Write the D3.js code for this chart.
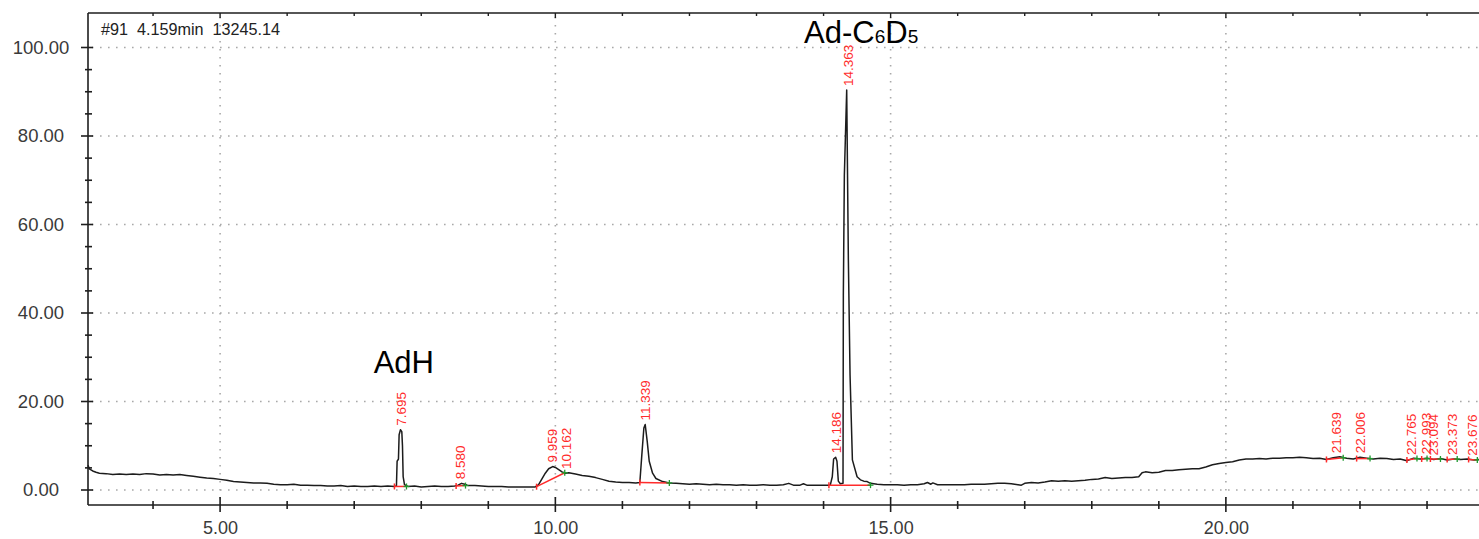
<!DOCTYPE html>
<html><head><meta charset="utf-8">
<script src="https://cdn.jsdelivr.net/npm/d3@7"></script>
<style>
body{margin:0;background:#fff}
svg{display:block}
text{font-family:"Liberation Sans",Arial,sans-serif}
</style>
</head><body>
<svg id="c" width="1479" height="539"></svg>
<script>
// ---- data ----
const trace = [
[3.03,5.6],[3.05,4.8],[3.10,4.3],[3.15,4.0],[3.2,3.8],[3.3,3.7],[3.4,3.5],[3.5,3.6],[3.6,3.5],[3.7,3.6],
[3.8,3.5],[3.9,3.7],[4.0,3.6],[4.1,3.4],[4.2,3.5],[4.3,3.4],[4.4,3.5],[4.5,3.3],[4.6,3.1],[4.7,2.9],
[4.8,2.7],[4.9,2.6],[5.0,2.4],[5.1,2.2],[5.2,1.9],[5.3,1.8],[5.4,1.7],[5.5,1.6],[5.6,1.6],[5.7,1.5],
[5.8,1.3],[5.9,1.2],[6.0,1.2],[6.1,1.3],[6.2,1.1],[6.3,1.1],[6.4,1.0],[6.5,1.0],[6.6,0.9],[6.7,0.9],
[6.8,1.0],[6.9,0.8],[7.0,0.9],[7.1,0.8],[7.2,0.8],[7.3,0.9],[7.4,0.8],[7.5,0.9],[7.6,0.8],[7.63,0.9],
[7.64,6.5],[7.66,7.0],[7.67,12.5],[7.69,13.6],[7.71,13.2],[7.72,10.0],[7.73,3.0],[7.75,1.2],[7.8,0.8],[7.9,0.9],
[8.0,0.7],[8.1,0.8],[8.2,0.9],[8.3,0.8],[8.4,0.8],[8.5,0.9],[8.55,1.1],[8.6,1.5],[8.65,1.3],[8.7,1.0],
[8.8,1.0],[8.9,0.9],[9.0,0.8],[9.1,0.8],[9.2,0.8],[9.3,0.7],[9.4,0.7],[9.5,0.7],[9.6,0.7],[9.7,0.7],
[9.75,1.2],[9.8,2.5],[9.85,3.8],[9.9,4.8],[9.96,5.3],[10.0,5.1],[10.05,4.6],[10.1,4.1],[10.15,3.8],[10.2,3.9],
[10.3,3.6],[10.4,3.3],[10.5,3.1],[10.6,2.8],[10.7,2.4],[10.8,2.0],[10.9,1.8],[11.0,1.7],[11.1,1.7],[11.2,1.6],
[11.26,1.7],[11.29,8.0],[11.32,14.0],[11.34,14.8],[11.37,11.0],[11.4,6.5],[11.45,3.8],[11.5,2.6],[11.6,1.9],[11.7,1.6],
[11.8,1.5],[11.9,1.4],[12.0,1.3],[12.1,1.4],[12.2,1.3],[12.3,1.2],[12.4,1.3],[12.5,1.2],[12.6,1.2],[12.7,1.1],
[12.8,1.2],[12.9,1.1],[13.0,1.1],[13.1,1.2],[13.2,1.1],[13.3,1.1],[13.4,1.2],[13.48,1.5],[13.55,1.1],[13.65,1.1],
[13.7,1.4],[13.75,1.1],[13.8,1.1],[13.9,1.1],[14.0,1.1],[14.1,1.1],[14.13,3.0],[14.15,7.0],[14.18,7.4],[14.2,6.5],
[14.22,2.0],[14.25,1.4],[14.29,1.5],[14.295,44.0],[14.31,71.0],[14.345,90.4],[14.37,52.0],[14.395,26.0],[14.43,6.8],[14.5,3.0],
[14.55,2.3],[14.6,2.0],[14.65,1.9],[14.7,1.5],[14.8,1.3],[14.9,1.2],[15.0,1.2],[15.1,1.2],[15.2,1.1],[15.3,1.2],
[15.4,1.2],[15.5,1.4],[15.55,1.7],[15.6,1.3],[15.63,1.6],[15.7,1.2],[15.8,1.2],[15.9,1.2],[16.0,1.2],[16.1,1.2],
[16.2,1.3],[16.3,1.3],[16.4,1.3],[16.5,1.4],[16.6,1.5],[16.7,1.5],[16.8,1.4],[16.9,1.2],[16.95,1.1],[17.0,1.5],
[17.1,1.7],[17.2,1.6],[17.3,1.8],[17.4,2.1],[17.5,2.0],[17.6,2.1],[17.7,2.0],[17.8,2.1],[17.9,2.2],[18.0,2.4],
[18.1,2.5],[18.2,2.8],[18.3,2.6],[18.4,2.7],[18.5,2.8],[18.6,2.8],[18.7,3.0],[18.75,3.9],[18.8,4.1],[18.9,3.9],
[19.0,4.0],[19.1,4.4],[19.2,4.4],[19.3,4.6],[19.4,4.7],[19.5,4.8],[19.6,4.8],[19.7,5.2],[19.8,5.7],[19.9,6.0],
[20.0,6.2],[20.1,6.4],[20.2,6.8],[20.3,7.0],[20.4,7.0],[20.5,7.1],[20.6,7.0],[20.7,7.2],[20.8,7.2],[20.9,7.3],
[21.0,7.3],[21.1,7.4],[21.2,7.3],[21.3,7.1],[21.4,7.2],[21.5,6.9],[21.6,7.3],[21.7,7.5],[21.8,7.2],[21.9,7.0],
[22.0,7.4],[22.1,7.2],[22.2,7.0],[22.3,7.2],[22.4,7.1],[22.5,6.9],[22.6,7.0],[22.7,6.6],[22.8,7.2],[22.9,7.0],
[23.0,7.2],[23.1,6.9],[23.2,7.1],[23.3,6.8],[23.4,7.0],[23.5,6.9],[23.6,7.0],[23.7,6.8],[23.8,6.9]
];
const peakTimes  = [7.695, 8.580, 9.959, 10.162, 11.339, 14.186, 14.363, 21.639, 22.006, 22.765, 22.993, 23.094, 23.373, 23.676];
const peakLabels = ["7.695","8.580","9.959","10.162","11.339","14.186","14.363","21.639","22.006","22.765","22.993","23.094","23.373","23.676"];
const integStart = [[7.60,0.8],[8.52,0.9],[9.72,0.75],[11.26,1.7],[14.08,1.1],[21.50,6.9],[21.95,7.1],[22.70,6.8],[22.92,7.0],[23.05,7.0],[23.30,6.9],[23.62,6.9]];
const integEnd   = [[7.78,0.8],[8.66,1.0],[10.14,3.9],[11.70,1.6],[14.70,1.1],[21.75,7.3],[22.15,7.1],[22.85,7.1],[23.00,7.1],[23.20,7.0],[23.45,7.0],[23.75,6.8]];
const xTickLabels = [5, 10, 15, 20];
const xMinorTicks = d3.range(4, 24, 1);
const yTickLabels = [0, 20, 40, 60, 80, 100];
const yMinorTicks = d3.range(0, 105, 5);
const headerText = "#91  4.159min  13245.14";
const annoAdH = {t: 7.74, v: 26.4};
const annoAdC = {t: 14.56, v: 101.0};

// ---- layout ----
const svg = d3.select("#c");
const L = 88, R = 1479, T = 13, B = 505;
const x = d3.scaleLinear().domain([3.03, 23.775]).range([L, R]);
const y = d3.scaleLinear().domain([0, 100]).range([490, 47.5]);
const axisCol = "#1e1e1e", labCol = "#3a3a3a";

// grid
const grid = svg.append("g").attr("stroke", "#a9a9a9").attr("stroke-width", 1.6).attr("stroke-dasharray", "1.6 6.4");
grid.selectAll("line.h").data(yTickLabels).join("line").attr("class","h")
  .attr("x1", L + 4).attr("x2", R).attr("y1", d => y(d)).attr("y2", d => y(d));
grid.selectAll("line.v").data(xTickLabels).join("line").attr("class","v")
  .attr("x1", d => x(d)).attr("x2", d => x(d)).attr("y1", T + 4).attr("y2", B);

// frame
svg.append("line").attr("x1", L).attr("x2", R).attr("y1", T).attr("y2", T).attr("stroke", axisCol).attr("stroke-width", 1.6);
svg.append("line").attr("x1", L).attr("x2", R).attr("y1", B).attr("y2", B).attr("stroke", axisCol).attr("stroke-width", 1.6);
svg.append("line").attr("x1", L).attr("x2", L).attr("y1", T).attr("y2", B).attr("stroke", axisCol).attr("stroke-width", 1.6);

// x ticks (bottom, crossing) and top ticks
const isMajX = d => xTickLabels.includes(d);
svg.append("g").selectAll("line").data(xMinorTicks).join("line")
  .attr("x1", d => x(d)).attr("x2", d => x(d))
  .attr("y1", d => isMajX(d) ? B - 8 : B - 4).attr("y2", d => isMajX(d) ? B + 7 : B + 4)
  .attr("stroke", axisCol).attr("stroke-width", 1.6);
svg.append("g").selectAll("line").data(xMinorTicks).join("line")
  .attr("x1", d => x(d)).attr("x2", d => x(d))
  .attr("y1", T).attr("y2", d => isMajX(d) ? T + 5 : T + 3)
  .attr("stroke", axisCol).attr("stroke-width", 1.4);
// y ticks crossing
const isMajY = d => yTickLabels.includes(d);
svg.append("g").selectAll("line").data(yMinorTicks).join("line")
  .attr("y1", d => y(d)).attr("y2", d => y(d))
  .attr("x1", d => isMajY(d) ? L - 7 : L - 3).attr("x2", d => isMajY(d) ? L + 5 : L + 4)
  .attr("stroke", axisCol).attr("stroke-width", 1.6);

// axis labels via d3 axes
const xa = svg.append("g").attr("transform", `translate(0,${B})`)
  .call(d3.axisBottom(x).tickValues(xTickLabels).tickFormat(d3.format(".2f")).tickSize(0).tickPadding(16));
xa.select(".domain").remove();
xa.selectAll("text").attr("font-size", 18).attr("fill", labCol).attr("font-family", '"Liberation Sans",Arial,sans-serif');
const ya = svg.append("g").attr("transform", `translate(${L},0)`)
  .call(d3.axisLeft(y).tickValues(yTickLabels).tickFormat(d3.format(".2f")).tickSize(0));
ya.select(".domain").remove();
ya.selectAll("text").attr("font-size", 18.5).attr("fill", labCol).attr("text-anchor", "middle")
  .attr("x", 41 - L).attr("font-family", '"Liberation Sans",Arial,sans-serif');

// trace
svg.append("path").datum(trace)
  .attr("d", d3.line().x(d => x(d[0])).y(d => y(d[1])))
  .attr("fill", "none").attr("stroke", "#1c1c1c").attr("stroke-width", 1.5).attr("stroke-linejoin", "round");

// integration baselines
const red = "#ff2b2b", green = "#1f9a2f";
svg.append("g").selectAll("line").data(integStart.map((s, i) => [s, integEnd[i]])).join("line")
  .attr("x1", d => x(d[0][0])).attr("y1", d => y(d[0][1]))
  .attr("x2", d => x(d[1][0])).attr("y2", d => y(d[1][1]))
  .attr("stroke", red).attr("stroke-width", 1.5);
svg.append("g").selectAll("line").data(integStart).join("line")
  .attr("x1", d => x(d[0])).attr("x2", d => x(d[0]))
  .attr("y1", d => y(d[1]) - 3).attr("y2", d => y(d[1]) + 3)
  .attr("stroke", red).attr("stroke-width", 1.5);
const ge = svg.append("g").attr("stroke", green).attr("stroke-width", 1.3);
ge.selectAll("line.a").data(integEnd).join("line").attr("class","a")
  .attr("x1", d => x(d[0])).attr("x2", d => x(d[0])).attr("y1", d => y(d[1]) - 3).attr("y2", d => y(d[1]) + 3);
ge.selectAll("line.b").data(integEnd).join("line").attr("class","b")
  .attr("x1", d => x(d[0]) - 3).attr("x2", d => x(d[0]) + 3).attr("y1", d => y(d[1])).attr("y2", d => y(d[1]));

// peak labels (rotated) placed just above the local apex of the trace
function valueAt(t) {
  const i = d3.bisector(d => d[0]).left(trace, t);
  if (i <= 0) return trace[0][1];
  if (i >= trace.length) return trace[trace.length - 1][1];
  const a = trace[i - 1], b = trace[i];
  return a[1] + (b[1] - a[1]) * (t - a[0]) / (b[0] - a[0]);
}
function apexNear(t) {
  const near = trace.filter(d => Math.abs(d[0] - t) <= 0.03);
  return Math.max(valueAt(t), near.length ? d3.max(near, d => d[1]) : 0);
}
svg.append("g").selectAll("text").data(peakTimes).join("text")
  .attr("transform", d => `translate(${x(d)},${y(apexNear(d)) - 4}) rotate(-90)`)
  .attr("dy", "0.36em").attr("font-size", 13.5).attr("fill", red)
  .text((d, i) => peakLabels[i]);

// header
svg.append("text").attr("x", 101).attr("y", 35).attr("font-size", 16.2).attr("fill", "#222")
  .style("white-space", "pre").text(headerText);

// annotations
svg.append("text").attr("x", x(annoAdH.t)).attr("y", y(annoAdH.v)).attr("text-anchor", "middle")
  .attr("font-size", 31).attr("fill", "#000").text("AdH");
const ac = svg.append("text").attr("x", x(annoAdC.t)).attr("y", y(annoAdC.v)).attr("text-anchor", "middle")
  .attr("fill", "#000");
ac.append("tspan").attr("font-size", 31).text("Ad-C");
ac.append("tspan").attr("font-size", 19).text("6");
ac.append("tspan").attr("font-size", 31).text("D");
ac.append("tspan").attr("font-size", 19).text("5");
</script>
</body></html>
